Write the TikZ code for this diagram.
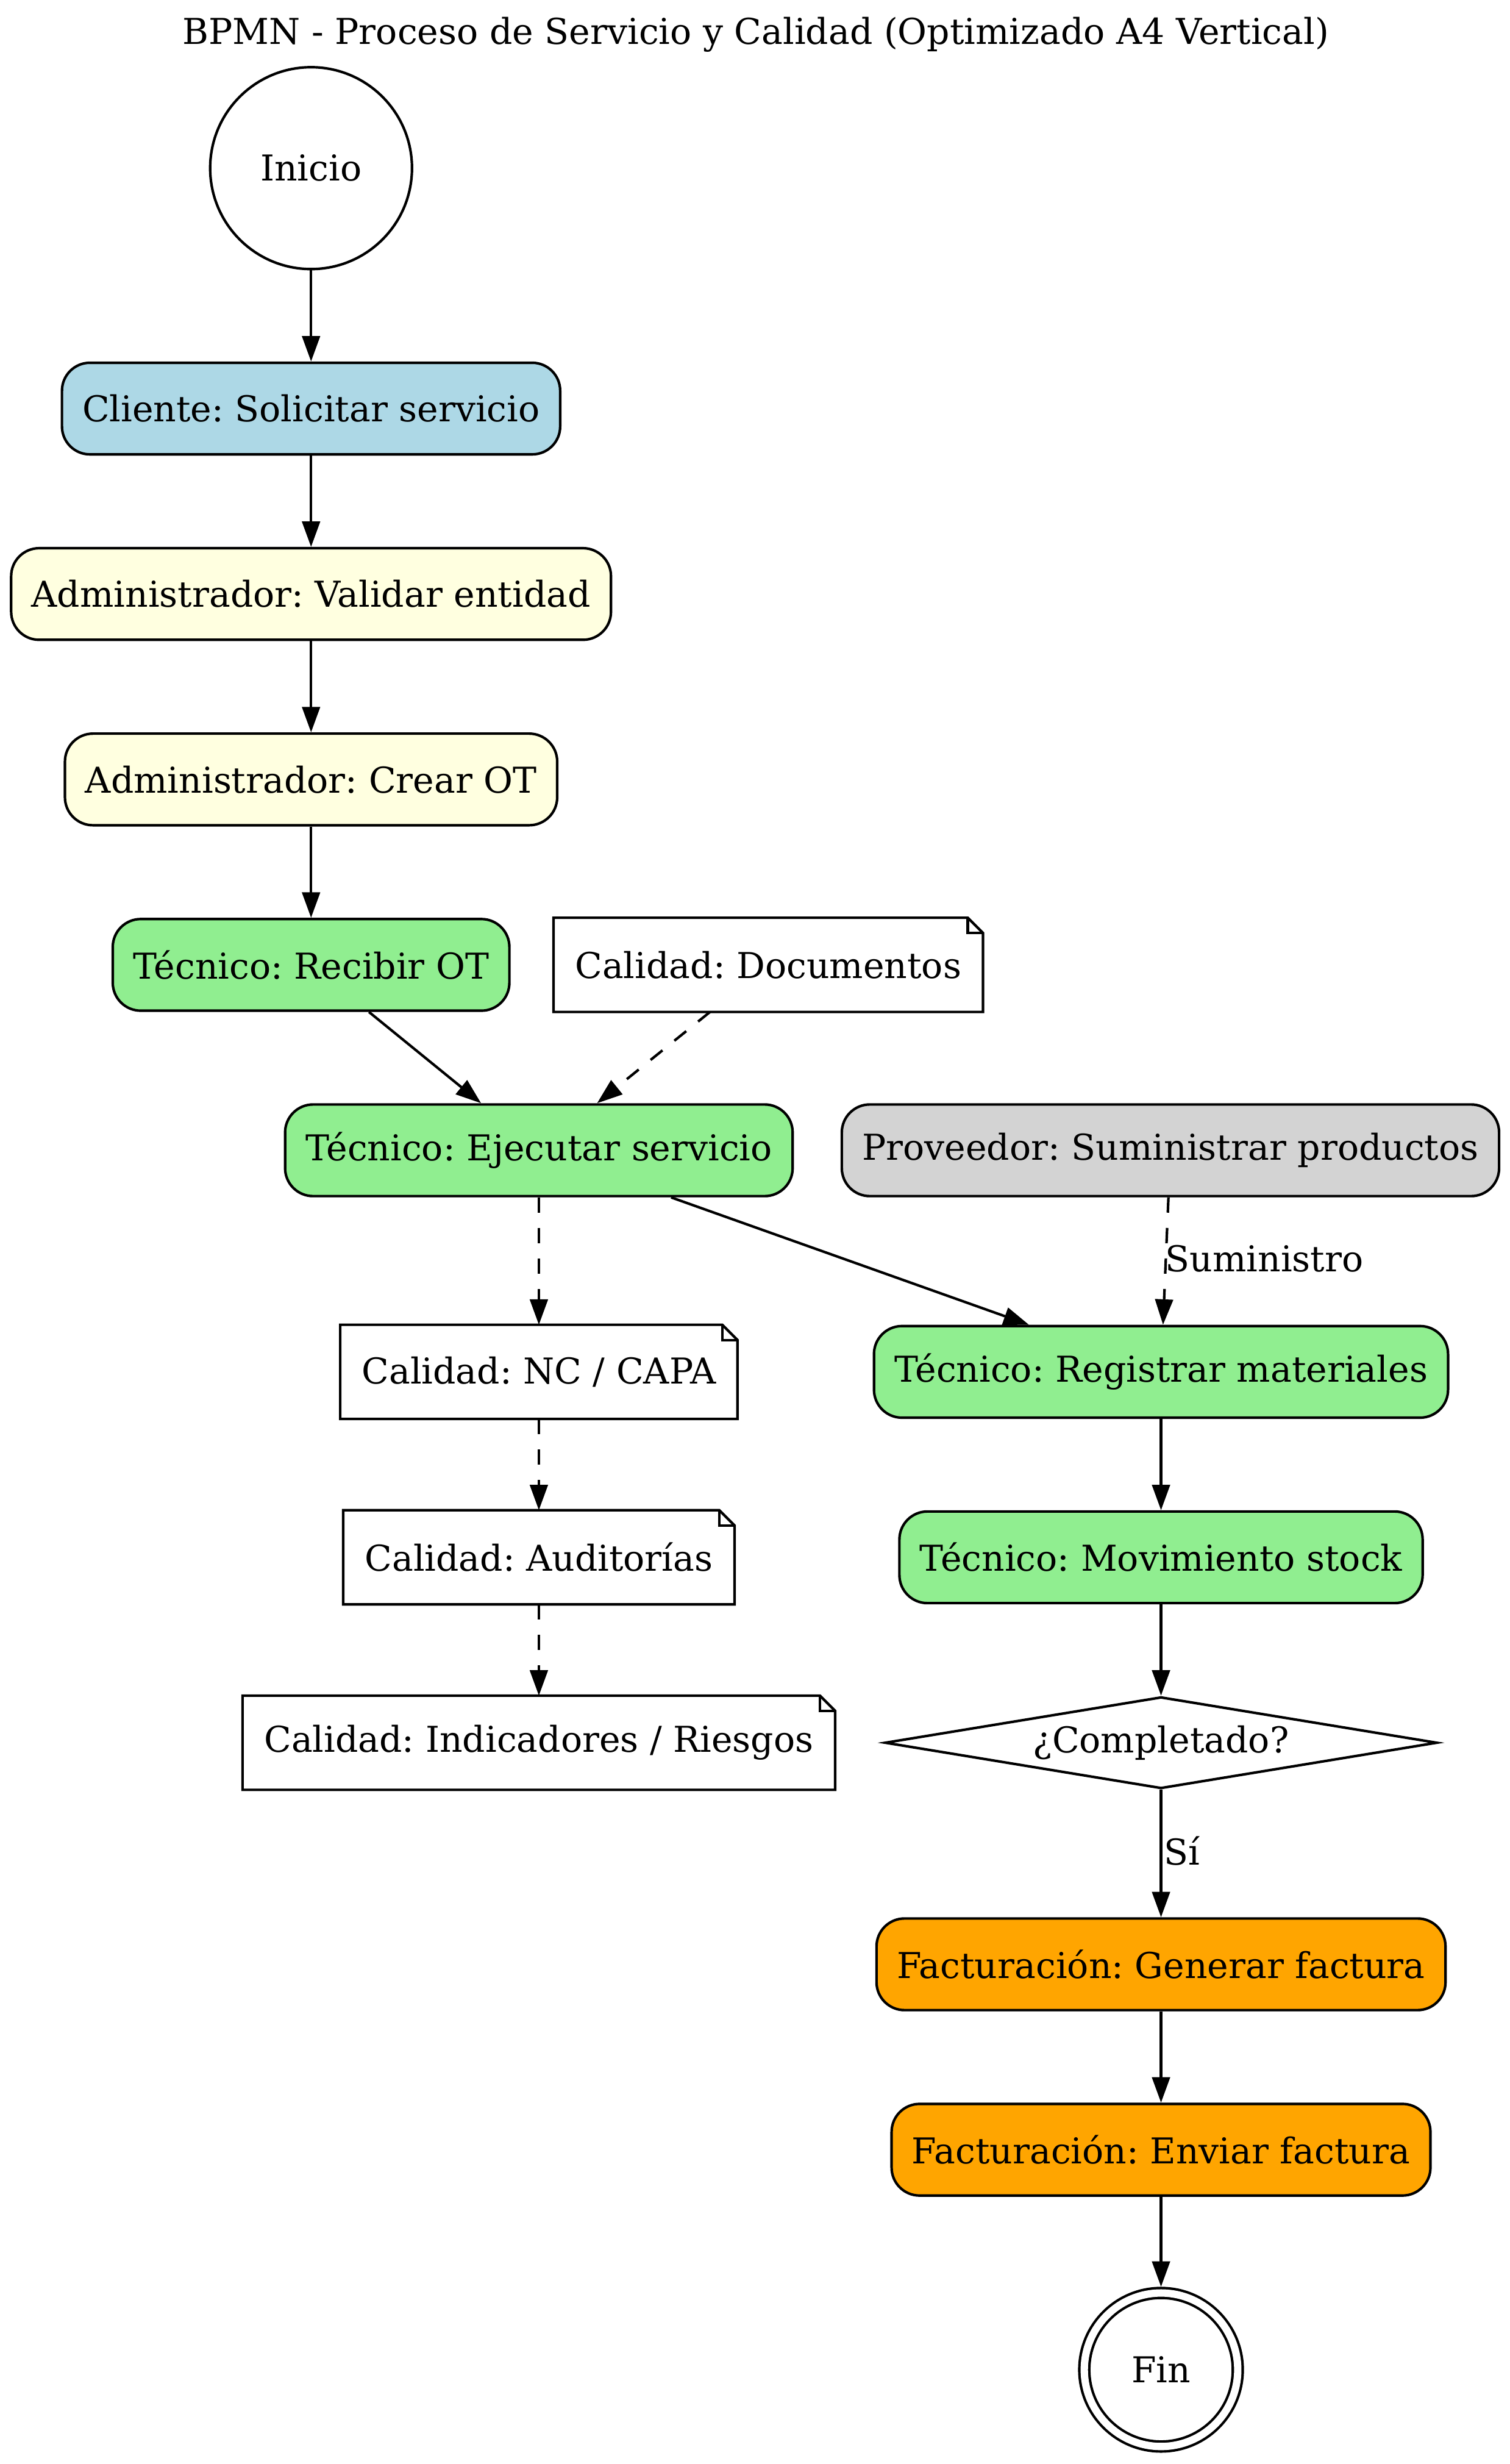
\documentclass[tikz,border=0pt]{standalone}
\usepackage{fontspec}
\setmainfont{DejaVu Serif}
\usetikzlibrary{arrows.meta,shapes.geometric}
\frenchspacing

\definecolor{clLightBlue}{HTML}{ADD8E6}
\definecolor{clLightYellow}{HTML}{FFFFE0}
\definecolor{clLightGreen}{HTML}{90EE90}
\definecolor{clLightGray}{HTML}{D3D3D3}
\definecolor{clOrange}{HTML}{FFA500}

\tikzset{
  task/.style={rectangle, rounded corners=11pt, draw=black, line width=1pt,
    inner xsep=8pt, inner ysep=0pt, minimum height=36pt},
  notebox/.style={rectangle, draw=none, inner xsep=8pt, inner ysep=0pt,
    minimum height=36pt,
    append after command={\pgfextra{
      \draw[line width=1pt, line join=miter]
        (\tikzlastnode.north west) -- ([xshift=-6pt]\tikzlastnode.north east)
        -- ([yshift=-6pt]\tikzlastnode.north east) -- (\tikzlastnode.south east)
        -- (\tikzlastnode.south west) -- cycle;
      \draw[line width=1pt, line join=miter]
        ([xshift=-6pt]\tikzlastnode.north east)
        -- ([xshift=-6pt,yshift=-6pt]\tikzlastnode.north east)
        -- ([yshift=-6pt]\tikzlastnode.north east);
    }}},
  gateway/.style={diamond, aspect=6.03, draw=black, line width=1pt, inner sep=0pt,
    minimum width=217pt, minimum height=36pt},
  startev/.style={circle, draw=black, line width=1pt, inner sep=0pt,
    minimum size=79.3pt},
  endev/.style={circle, draw=black, line width=1pt, double, double distance=2.9pt,
    inner sep=0pt, minimum size=60.3pt, outer sep=2.45pt},
  flow/.style={-{Triangle[length=10pt,width=7pt]}, line width=1pt},
  assoc/.style={flow, dash pattern=on 6pt off 6pt},
  edgelabel/.style={anchor=west, inner sep=0pt}
}

\begin{document}
\begin{tikzpicture}[x=0.6173pt, y=-0.6173pt, line width=1pt,
  font=\fontsize{14pt}{17pt}\selectfont]
  \useasboundingbox (0,0) rectangle (961,1568);

  % title
  \node (title) at (481,22) {BPMN - Proceso de Servicio y Calidad (Optimizado A4 Vertical)};

  % main flow, left column
  \node[startev] (inicio) at (198,107) {Inicio};
  \node[task, fill=clLightBlue] (cliente) at (198,260) {Cliente: Solicitar servicio};
  \node[task, fill=clLightYellow] (validar) at (198,378) {Administrador: Validar entidad};
  \node[task, fill=clLightYellow] (crear) at (198,496) {Administrador: Crear OT};
  \node[task, fill=clLightGreen] (recibir) at (198,614) {Técnico: Recibir OT};

  % quality documents and service execution
  \node[notebox] (docs) at (489,614) {Calidad: Documentos};
  \node[task, fill=clLightGreen] (ejecutar) at (343,732) {Técnico: Ejecutar servicio};
  \node[task, fill=clLightGray] (proveedor) at (745,732) {Proveedor: Suministrar productos};

  % quality chain
  \node[notebox] (nc) at (343,873) {Calidad: NC / CAPA};
  \node[notebox] (auditorias) at (343,991) {Calidad: Auditorías};
  \node[notebox] (indicadores) at (343,1109) {Calidad: Indicadores / Riesgos};

  % materials, stock and billing
  \node[task, fill=clLightGreen] (registrar) at (739,873) {Técnico: Registrar materiales};
  \node[task, fill=clLightGreen] (stock) at (739,991) {Técnico: Movimiento stock};
  \node[gateway] (completado) at (739,1109) {¿Completado?};
  \node[task, fill=clOrange] (generar) at (739,1250) {Facturación: Generar factura};
  \node[task, fill=clOrange] (enviar) at (739,1368) {Facturación: Enviar factura};
  \node[endev] (fin) at (739,1508) {Fin};

  % sequence flows
  \draw[flow] (inicio) -- (cliente);
  \draw[flow] (cliente) -- (validar);
  \draw[flow] (validar) -- (crear);
  \draw[flow] (crear) -- (recibir);
  \draw[flow] (recibir) -- (ejecutar);
  \draw[flow] (ejecutar) -- (registrar);
  \draw[flow] (registrar) -- (stock);
  \draw[flow] (stock) -- (completado);
  \draw[flow] (completado) -- (generar);
  \draw[flow] (generar) -- (enviar);
  \draw[flow] (enviar) -- (fin);

  % associations
  \draw[assoc] (docs) -- (ejecutar);
  \draw[assoc] (ejecutar) -- (nc);
  \draw[assoc] (nc) -- (auditorias);
  \draw[assoc] (auditorias) -- (indicadores);
  \draw[assoc] (proveedor) -- (registrar);

  % edge labels
  \node[edgelabel] (lblsum) at (741,801) {Suministro};
  \node[edgelabel] (lblsi) at (740,1178) {Sí};
\end{tikzpicture}
\end{document}
